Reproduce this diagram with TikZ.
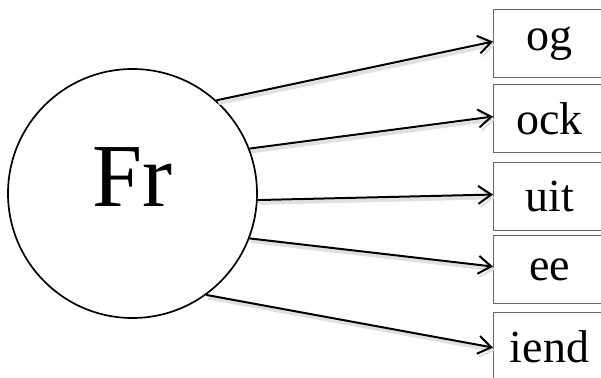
\documentclass[tikz,border=0pt]{standalone}
\usepackage{fontspec}
\setmainfont{Liberation Serif}
\usetikzlibrary{arrows.meta}
\begin{document}
\begin{tikzpicture}[x=1pt,y=-1pt,
  boxnode/.style={draw=black!60, line width=1.1pt, minimum width=112pt, minimum height=68pt, inner sep=0pt, font=\fontsize{46}{50}\selectfont, anchor=north west},
  conn/.style={line width=2pt, -{Straight Barb[length=13pt,width=18pt,line width=2pt]},
    preaction={draw=black!12, line width=3.5pt, transform canvas={shift={(2pt,-3pt)}}}}]
\useasboundingbox (0,0) rectangle (601,377);
\clip (0,0) rectangle (601,377);
\fill[white] (0,0) rectangle (601,377);
\node[draw, circle, line width=1.7pt, minimum size=249pt, inner sep=0pt] (c) at (132.5,193.5) {};
\node[font=\fontsize{90}{95}\selectfont, inner sep=0pt] (fr) at (132.5,177) {Fr};
\node[boxnode] (b1) at (493,9) {og};
\node[boxnode] (b2) at (493,84) {ock};
\node[boxnode] (b3) at (493,162) {uit};
\node[boxnode] (b4) at (493,235) {ee};
\node[boxnode] (b5) at (493,312) {iend};
\draw[conn] (c.48) -- ([yshift=2pt]b1.west);
\draw[conn] (c.21) -- ([yshift=2pt]b2.west);
\draw[conn] (c.-3) -- ([yshift=2pt]b3.west);
\draw[conn] (c.-21.5) -- ([yshift=3pt]b4.west);
\draw[conn] (c.-54) -- ([yshift=-1pt]b5.west);
\end{tikzpicture}
\end{document}
